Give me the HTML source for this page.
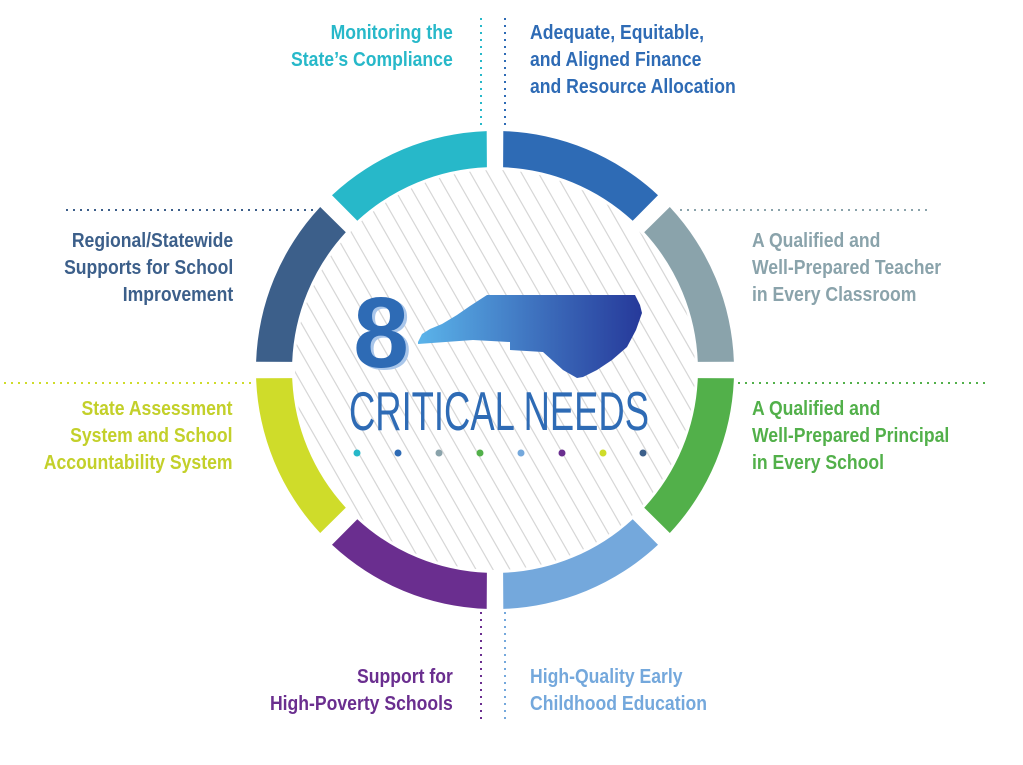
<!DOCTYPE html>
<html><head><meta charset="utf-8"><style>
html,body{margin:0;padding:0;background:#fff;}
body{width:1023px;height:765px;position:relative;overflow:hidden;font-family:"Liberation Sans",sans-serif;}
.t{position:absolute;font-weight:bold;font-size:20px;line-height:27px;white-space:nowrap;transform:scaleX(0.88);transform-origin:left top;}
.r{text-align:right;transform-origin:right top;}
</style></head><body>
<svg id="s" width="1023" height="765" style="position:absolute;left:0;top:0">
<defs>
<clipPath id="cc"><circle cx="495" cy="370" r="200"/></clipPath>
<linearGradient id="g" x1="0" x2="1" y1="0" y2="0"><stop offset="0" stop-color="#5bb4ea"/><stop offset="0.6" stop-color="#3a68b8"/><stop offset="1" stop-color="#26399a"/></linearGradient>
</defs>
<g id="hatch" clip-path="url(#cc)" stroke="#d6d6d6" stroke-width="1.2"></g>
<g id="segs"></g>
<g stroke-width="2" stroke-dasharray="2,5" fill="none">
<line x1="481" y1="18" x2="481" y2="128" stroke="#27b8c9"/>
<line x1="505" y1="18" x2="505" y2="128" stroke="#2e6bb5"/>
<line x1="481" y1="612" x2="481" y2="722" stroke="#6a2e8f"/>
<line x1="505" y1="612" x2="505" y2="722" stroke="#74a8dc"/>
<line x1="66" y1="210" x2="318" y2="210" stroke="#3c5f8a"/>
<line x1="680" y1="210" x2="930" y2="210" stroke="#8aa3ab"/>
<line x1="4" y1="383" x2="252" y2="383" stroke="#cfdc2a"/>
<line x1="738" y1="383" x2="990" y2="383" stroke="#52b04a"/>
</g>
<polygon fill="url(#g)" points="418,342 422,334 430,329 442,324 457,315 470,306 487,295 635,295 640,305 642,313 636,330 627,347 612,360 597,370 583,377 577,378 563,370 543,352 510,350 510,342 473,340 418,344"/>
<text x="381" y="367" text-anchor="middle" style="font-family:'Liberation Sans',sans-serif;font-weight:bold;font-size:100px" fill="#a9c6ea" transform="translate(3,2)">8</text>
<text x="381" y="367" text-anchor="middle" style="font-family:'Liberation Sans',sans-serif;font-weight:bold;font-size:100px" fill="#2e6bb5">8</text>
<text x="499" y="430" text-anchor="middle" style="font-family:'Liberation Sans',sans-serif;font-size:55px" fill="#2e6bb5" textLength="300" lengthAdjust="spacingAndGlyphs">CRITICAL NEEDS</text>
<g>
<circle cx="357" cy="453" r="3.5" fill="#27b8c9"/><circle cx="398" cy="453" r="3.5" fill="#2e6bb5"/>
<circle cx="439" cy="453" r="3.5" fill="#8aa3ab"/><circle cx="480" cy="453" r="3.5" fill="#52b04a"/>
<circle cx="521" cy="453" r="3.5" fill="#74a8dc"/><circle cx="562" cy="453" r="3.5" fill="#6a2e8f"/>
<circle cx="603" cy="453" r="3.5" fill="#cfdc2a"/><circle cx="643" cy="453" r="3.5" fill="#3c5f8a"/>
</g>
</svg>
<div class="t r" style="right:570px;top:20px;color:#27b8c9">Monitoring the<br>State’s Compliance</div>
<div class="t" style="left:530px;top:20px;color:#2e6bb5">Adequate, Equitable,<br>and Aligned Finance<br>and Resource Allocation</div>
<div class="t r" style="right:790px;top:228px;color:#3c5f8a">Regional/Statewide<br>Supports for School<br>Improvement</div>
<div class="t" style="left:752px;top:228px;color:#8aa3ab">A Qualified and<br>Well-Prepared Teacher<br>in Every Classroom</div>
<div class="t r" style="right:790px;top:396px;color:#c3d02a">State Assessment<br>System and School<br>Accountability System</div>
<div class="t" style="left:752px;top:396px;color:#52b04a">A Qualified and<br>Well-Prepared Principal<br>in Every School</div>
<div class="t r" style="right:570px;top:664px;color:#6a2e8f">Support for<br>High-Poverty Schools</div>
<div class="t" style="left:530px;top:664px;color:#74a8dc">High-Quality Early<br>Childhood Education</div>
<script>
var ns="http://www.w3.org/2000/svg",cx=495,cy=370,R=239,r=203;
var cols=["#2e6bb5","#8aa3ab","#52b04a","#74a8dc","#6a2e8f","#cfdc2a","#3c5f8a","#27b8c9"];
function p(rad,a){var t=(a-90)*Math.PI/180;return (cx+rad*Math.cos(t)).toFixed(1)+","+(cy+rad*Math.sin(t)).toFixed(1);}
var sg=document.getElementById("segs");
for(var i=0;i<8;i++){var a0=i*45,a1=a0+45,go=2,gi=2.3;
var d="M"+p(R,a0+go)+" A"+R+","+R+" 0 0 1 "+p(R,a1-go)+" L"+p(r,a1-gi)+" A"+r+","+r+" 0 0 0 "+p(r,a0+gi)+"Z";
var e=document.createElementNS(ns,"path");e.setAttribute("d",d);e.setAttribute("fill",cols[i]);sg.appendChild(e);}
var h=document.getElementById("hatch");
for(var x=-200;x<1000;x+=17){var l=document.createElementNS(ns,"line");l.setAttribute("x1",x);l.setAttribute("y1",160);l.setAttribute("x2",x+240);l.setAttribute("y2",580);h.appendChild(l);}
</script>
</body></html>
